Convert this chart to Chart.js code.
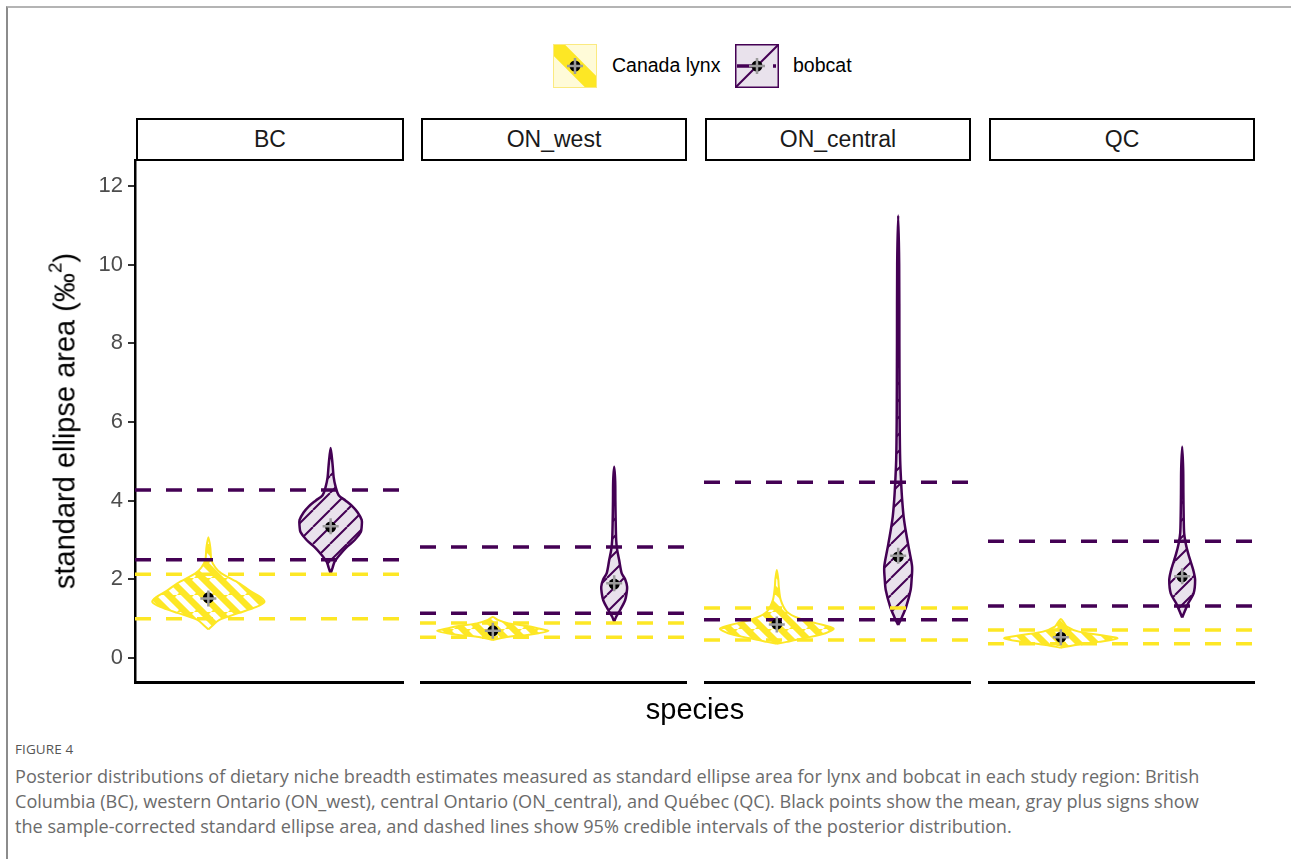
<!DOCTYPE html>
<html>
<head>
<meta charset="utf-8">
<script src="https://cdn.jsdelivr.net/npm/chart.js@4.4.1/dist/chart.umd.min.js"></script>
<style>
  body { margin: 0; background: #fff; width: 1291px; height: 859px; position: relative; overflow: hidden; font-family: "Liberation Sans", Arial, sans-serif; }
  .frame { position: absolute; left: 6px; top: 6px; width: 1300px; height: 870px; border-top: 2px solid #b4b4b4; border-left: 2px solid #8c8c8c; }
  canvas.panel { position: absolute; }
  .strip { position: absolute; top: 118px; height: 43px; box-sizing: border-box; border: 2px solid #000; background: #fff; font-size: 23px; color: #1a1a1a; text-align: center; line-height: 39px; }
  .ytitle { position: absolute; left: 65px; top: 421px; transform: translate(-50%, -50%) rotate(-90deg); font-size: 29px; white-space: nowrap; color: #000; }
  .ytitle sup { font-size: 19px; vertical-align: 0; position: relative; top: -13px; }
  .xtitle { position: absolute; left: 695px; top: 709px; transform: translate(-50%, -50%); font-size: 29px; color: #000; }
  .legend { position: absolute; top: 44px; }
  .legend canvas { position: absolute; left: 0; top: 0; }
  .legend span { position: absolute; top: 10px; font-size: 19.5px; white-space: nowrap; color: #000; }
  .figlabel { position: absolute; left: 15px; top: 740px; font-family: "Open Sans", Lato, sans-serif; font-size: 13.5px; color: #555; letter-spacing: 0.1px; }
  .caption { position: absolute; left: 15px; top: 764px; font-family: "Open Sans", Lato, sans-serif; font-size: 16px; line-height: 25px; color: #6b6b6b; white-space: nowrap; }
</style>
</head>
<body>
<div class="frame"></div>

<div class="legend" style="left:553px"><canvas id="keyLynx" width="44" height="44"></canvas><span style="left:59px">Canada lynx</span></div>
<div class="legend" style="left:735px"><canvas id="keyBobcat" width="44" height="44"></canvas><span style="left:58px">bobcat</span></div>

<div id="strips"></div>
<div id="panels"></div>

<div class="ytitle">standard ellipse area (‰<sup>2</sup>)</div>
<div class="xtitle">species</div>

<div class="figlabel">FIGURE 4</div>
<div class="caption" id="caption"><span id="capLine1">Posterior distributions of dietary niche breadth estimates measured as standard ellipse area for lynx and bobcat in each study region: British</span><br>Columbia (BC), western Ontario (ON_west), central Ontario (ON_central), and Québec (QC). Black points show the mean, gray plus signs show<br>the sample-corrected standard ellipse area, and dashed lines show 95% credible intervals of the posterior distribution.</div>

<script>
const regions = ['BC', 'ON_west', 'ON_central', 'QC'];
const speciesNames = ['Canada lynx', 'bobcat'];
const yTicks = [0, 2, 4, 6, 8, 10, 12];

// violin outlines : value levels and relative density (half width) at each level
const lynxBCy = [0.73, 0.82, 0.97, 1.14, 1.3, 1.43, 1.55, 1.7, 1.9, 2.15, 2.3, 2.5, 2.8, 3.07];
const lynxBCd = [0, 4, 11, 30, 48, 56, 52, 42, 31, 13, 7, 3, 2, 0];
const bobcatBCy = [2.15, 2.3, 2.45, 2.65, 2.82, 3.0, 3.2, 3.35, 3.51, 3.7, 3.85, 4.0, 4.14, 4.35, 4.6, 4.9, 5.34];
const bobcatBCd = [0, 2, 4, 10, 16, 24, 30, 31, 31, 27, 22, 15, 8, 5, 3, 2, 0];

const lynxWESTy = [0.46, 0.54, 0.58, 0.63, 0.69, 0.75, 0.81, 0.88, 0.97, 1.04];
const lynxWESTd = [0, 16, 33, 46, 56, 46, 36, 16, 5, 0];
const bobcatWESTy = [0.92, 1.05, 1.22, 1.47, 1.65, 1.81, 2.0, 2.16, 2.49, 2.75, 3.0, 3.5, 4.0, 4.5, 4.86];
const bobcatWESTd = [0, 2, 6, 11, 12.5, 13, 11, 7.5, 5, 3, 2, 1.5, 1.2, 1, 0];

const lynxCENTy = [0.36, 0.41, 0.5, 0.63, 0.75, 0.88, 1.01, 1.18, 1.47, 1.81, 2.0, 2.24];
const lynxCENTd = [0, 10, 27, 49, 57, 40, 22, 10, 4, 2, 1.5, 0];
const bobcatCENTy = [0.84, 1.05, 1.3, 1.73, 2.0, 2.32, 2.75, 3.17, 3.59, 4.02, 4.45, 5.03, 6.0, 8.0, 10.0, 11.25];
const bobcatCENTd = [0, 4, 8, 12.5, 13.5, 14, 11, 8, 5.5, 4, 3, 2, 1.5, 1.2, 1, 0];

const lynxQCy = [0.26, 0.33, 0.41, 0.5, 0.58, 0.67, 0.8, 0.9, 0.99];
const lynxQCd = [0, 15, 38, 57, 41, 18, 6, 3, 0];
const bobcatQCy = [1.03, 1.18, 1.39, 1.64, 1.98, 2.2, 2.41, 2.66, 2.92, 3.17, 3.6, 4.2, 4.8, 5.37];
const bobcatQCd = [0, 2.5, 6, 11.5, 13, 11.5, 9, 6, 3.5, 2, 1.5, 1.2, 1, 0];

// per region (BC, ON_west, ON_central, QC)
const lynxMean = [1.53, 0.69, 0.86, 0.53];
const bobcatMean = [3.33, 1.88, 2.57, 2.06];
const lynxSeac = [1.51, 0.69, 0.85, 0.53];
const bobcatSeac = [3.35, 1.9, 2.6, 2.08];
const lynxLow = [1.0, 0.53, 0.46, 0.36];
const lynxHigh = [2.13, 0.89, 1.27, 0.71];
const bobcatLow = [2.5, 1.14, 0.97, 1.32];
const bobcatHigh = [4.27, 2.82, 4.47, 2.97];

const lynxProfiles = [[lynxBCy, lynxBCd], [lynxWESTy, lynxWESTd], [lynxCENTy, lynxCENTd], [lynxQCy, lynxQCd]];
const bobcatProfiles = [[bobcatBCy, bobcatBCd], [bobcatWESTy, bobcatWESTd], [bobcatCENTy, bobcatCENTd], [bobcatQCy, bobcatQCd]];

const yellow = '#FDE725';
const purple = '#440154';
const lavender = '#E9E2EC';
const violinScale = 1 / 122;
const panelLeft = [135, 420, 704, 988];
const panelWidth = [269, 267, 267, 267];
const yAxisW = 60;
const padV = 24;

function stripes(bg, fg, size, lw, dir) {
    const c = document.createElement('canvas');
    c.width = size; c.height = size;
    const g = c.getContext('2d');
    g.fillStyle = bg;
    g.fillRect(0, 0, size, size);
    g.strokeStyle = fg;
    g.lineWidth = lw;
    g.beginPath();
    for (const o of [-size, 0, size]) {
        if (dir === '/') { g.moveTo(o, size); g.lineTo(o + size, 0); }
        else { g.moveTo(o, 0); g.lineTo(o + size, size); }
    }
    g.stroke();
    return g.createPattern(c, 'repeat');
}

const lynxFill = stripes(yellow, '#ffffff', 17, 5.5, '\\');
const bobcatFill = stripes(lavender, purple, 17, 2, '/');

function violinPoints(xc, ys, ds) {
    const pts = [];
    for (let i = 0; i < ys.length; i++) pts.push({x: xc + ds[i] * violinScale, y: ys[i]});
    for (let i = ys.length - 2; i >= 0; i--) pts.push({x: xc - ds[i] * violinScale, y: ys[i]});
    return pts;
}

function hline(v, color) {
    return {
        data: [{x: 0.4, y: v}, {x: 2.6, y: v}],
        borderColor: color, borderWidth: 3.5, borderDash: [16, 15],
        pointRadius: 0, fill: false, order: 2
    };
}

const stripBox = document.getElementById('strips');
const panelBox = document.getElementById('panels');

regions.forEach((region, k) => {
    const s = document.createElement('div');
    s.className = 'strip';
    s.style.left = (panelLeft[k] + 1) + 'px';
    s.style.width = (panelWidth[k] - 1) + 'px';
    s.innerText = region;
    stripBox.appendChild(s);

    const first = k === 0;
    const cv = document.createElement('canvas');
    cv.className = 'panel';
    const w = panelWidth[k] + (first ? yAxisW : 0);
    cv.width = w;
    cv.height = padV + 522 + 3 + padV;
    cv.style.left = (panelLeft[k] - (first ? yAxisW : 0)) + 'px';
    cv.style.top = (160 - padV) + 'px';
    panelBox.appendChild(cv);

    new Chart(cv, {
        type: 'line',
        data: {
            datasets: [
                { data: [{x: 1, y: lynxSeac[k]}, {x: 2, y: bobcatSeac[k]}], showLine: false,
                  pointStyle: 'cross', pointRadius: 8, borderColor: '#9b9b9b', pointBorderWidth: 2.5, order: 0 },
                { data: [{x: 1, y: lynxMean[k]}, {x: 2, y: bobcatMean[k]}], showLine: false,
                  pointRadius: 5.5, pointBackgroundColor: '#000', pointBorderColor: '#000', pointBorderWidth: 0, order: 1 },
                hline(lynxLow[k], yellow),
                hline(lynxHigh[k], yellow),
                hline(bobcatLow[k], purple),
                hline(bobcatHigh[k], purple),
                { data: violinPoints(1, lynxProfiles[k][0], lynxProfiles[k][1]),
                  borderColor: yellow, borderWidth: 2, backgroundColor: lynxFill, fill: 'shape',
                  pointRadius: 0, tension: 0.3, order: 3 },
                { data: violinPoints(2, bobcatProfiles[k][0], bobcatProfiles[k][1]),
                  borderColor: purple, borderWidth: 2.5, backgroundColor: bobcatFill, fill: 'shape',
                  pointRadius: 0, tension: 0.3, order: 3 }
            ]
        },
        options: {
            responsive: false,
            animation: false,
            layout: { autoPadding: false, padding: { top: padV, bottom: padV, left: 0, right: 0 } },
            plugins: { legend: { display: false }, tooltip: { enabled: false } },
            scales: {
                x: {
                    type: 'linear', min: 0.4, max: 2.6,
                    ticks: { display: false },
                    grid: { display: false, drawTicks: false },
                    border: { display: true, color: '#000', width: 3 },
                    afterFit: (sc) => { sc.height = 3; }
                },
                y: {
                    display: first,
                    min: -0.61, max: 12.66,
                    afterBuildTicks: (sc) => { sc.ticks = yTicks.map(v => ({value: v})); },
                    ticks: { color: '#4d4d4d', font: { family: 'Liberation Sans', size: 22 }, padding: 5 },
                    grid: { drawOnChartArea: false, drawTicks: true, tickLength: 7, color: '#333', lineWidth: 2 },
                    border: { display: true, color: '#000', width: 2.5 },
                    afterFit: (sc) => { if (first) sc.width = yAxisW; }
                }
            }
        }
    });
});

// legend keys
function drawKey(id, lynx) {
    const g = document.getElementById(id).getContext('2d');
    if (lynx) {
        g.fillStyle = '#FFFBD8';
        g.fillRect(0, 0, 44, 44);
        g.save();
        g.beginPath(); g.rect(0, 0, 44, 44); g.clip();
        g.strokeStyle = yellow; g.lineWidth = 16;
        g.beginPath(); g.moveTo(-4, -4); g.lineTo(48, 48); g.stroke();
        g.restore();
        g.strokeStyle = '#FBEA80'; g.lineWidth = 1;
        g.strokeRect(0.5, 0.5, 43, 43);
    } else {
        g.fillStyle = lavender;
        g.fillRect(0, 0, 44, 44);
        g.strokeStyle = purple; g.lineWidth = 2;
        g.beginPath(); g.moveTo(0, 44); g.lineTo(44, 0); g.stroke();
        g.lineWidth = 3.5; g.setLineDash([18, 18]);
        g.beginPath(); g.moveTo(2, 22); g.lineTo(41, 22); g.stroke();
        g.setLineDash([]);
        g.lineWidth = 1.5;
        g.strokeRect(0.75, 0.75, 42.5, 42.5);
    }
    g.fillStyle = '#000';
    g.beginPath(); g.arc(22, 22, 5.5, 0, Math.PI * 2); g.fill();
    g.strokeStyle = '#9b9b9b'; g.lineWidth = 2.5;
    g.beginPath(); g.moveTo(14, 22); g.lineTo(30, 22); g.moveTo(22, 14); g.lineTo(22, 30); g.stroke();
}
drawKey('keyLynx', true);
drawKey('keyBobcat', false);

// fit caption width to the figure text block
const cap = document.getElementById('caption');
const line1 = document.getElementById('capLine1');
const wNow = line1.getBoundingClientRect().width;
cap.style.fontSize = (16 * 1186 / wNow).toFixed(2) + 'px';
</script>
</body>
</html>
